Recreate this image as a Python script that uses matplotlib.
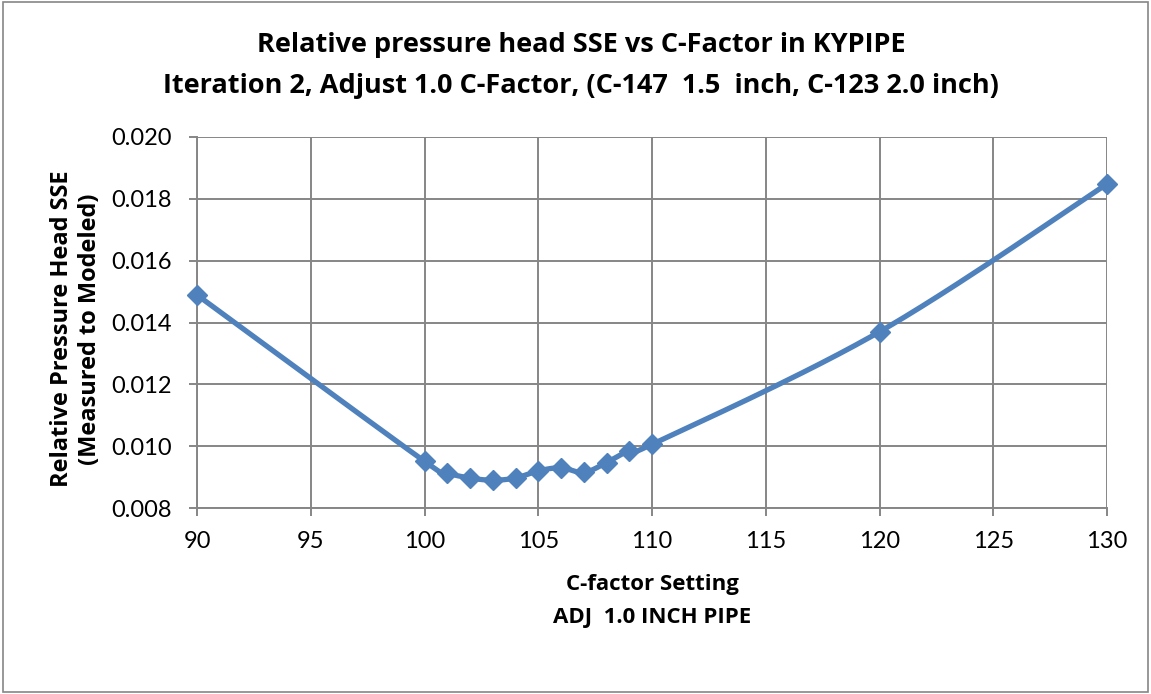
import numpy as np
import matplotlib
matplotlib.use("Agg")
import matplotlib.pyplot as plt
from matplotlib.patches import Rectangle

c_factor = [90, 100, 101, 102, 103, 104, 105, 106, 107, 108, 109, 110, 120, 130]
sse = [0.01489, 0.00951, 0.00914, 0.00897, 0.00890, 0.00897, 0.00920, 0.00930,
       0.00915, 0.00947, 0.00986, 0.01006, 0.01370, 0.01848]
x_ticks = [90, 95, 100, 105, 110, 115, 120, 125, 130]
y_ticks = [0.008, 0.010, 0.012, 0.014, 0.016, 0.018, 0.020]

title = "Relative pressure head SSE vs C-Factor in KYPIPE\nIteration 2, Adjust 1.0 C-Factor, (C-147  1.5  inch, C-123 2.0 inch)"
xlabel = "C-factor Setting\nADJ  1.0 INCH PIPE"
ylabel = "Relative Pressure Head SSE\n(Measured to Modeled)"

plt.rcParams['font.family'] = ['Lato', 'DejaVu Sans']
bold_font = ['Open Sans', 'DejaVu Sans']

def smooth(x, y, n=30):
    # Catmull-Rom style smoothing similar to spreadsheet smoothed lines
    x = np.asarray(x, float); y = np.asarray(y, float)
    px, py = [], []
    for i in range(len(x) - 1):
        p0 = (x[i-1], y[i-1]) if i > 0 else (x[i], y[i])
        p1 = (x[i], y[i]); p2 = (x[i+1], y[i+1])
        p3 = (x[i+2], y[i+2]) if i + 2 < len(x) else (x[i+1], y[i+1])
        t = np.linspace(0, 1, n)
        s = 1/6
        c1 = (p1[0] + (p2[0]-p0[0])*s, p1[1] + (p2[1]-p0[1])*s)
        c2 = (p2[0] - (p3[0]-p1[0])*s, p2[1] - (p3[1]-p1[1])*s)
        bx = (1-t)**3*p1[0] + 3*(1-t)**2*t*c1[0] + 3*(1-t)*t**2*c2[0] + t**3*p2[0]
        by = (1-t)**3*p1[1] + 3*(1-t)**2*t*c1[1] + 3*(1-t)*t**2*c2[1] + t**3*p2[1]
        px.extend(bx); py.extend(by)
    return px, py

fig = plt.figure(figsize=(11.51, 6.94), dpi=100)
fig.patches.append(Rectangle((0.003, 0.003), 0.994, 0.994, transform=fig.transFigure,
                             fill=False, edgecolor='#868686', linewidth=1.2))
ax = fig.add_axes([0.1712, 0.268, 0.7906, 0.5346])

sx, sy = smooth(c_factor, sse)
ax.plot(sx, sy, color='#4F81BD', linewidth=3.8, solid_capstyle='round', zorder=3, clip_on=False)
ax.plot(c_factor, sse, linestyle='none', marker='D', markersize=10.5, color='#4F81BD',
        zorder=4, clip_on=False)

ax.set_xlim(90, 130)
ax.set_ylim(0.008, 0.020)
ax.set_xticks(x_ticks)
ax.set_yticks(y_ticks)
ax.set_xticklabels([str(v) for v in x_ticks])
ax.set_yticklabels([f"{v:.3f}" for v in y_ticks])
ax.grid(True, color='#868686', linewidth=1.4)
ax.set_axisbelow(True)
for s in ['top', 'right']:
    ax.spines[s].set_visible(False)
for s in ['left', 'bottom']:
    ax.spines[s].set_color('#868686')
    ax.spines[s].set_linewidth(1.4)
ax.tick_params(axis='both', colors='#868686', labelcolor='black', labelsize=17,
               length=6, width=1.4, direction='out')
ax.tick_params(axis='x', pad=10.5)
ax.tick_params(axis='y', pad=12)

fig.text(0.505, 0.905, title, ha='center', va='center', fontsize=19.5, fontweight='bold',
         family=bold_font, linespacing=1.75)
fig.text(0.5665, 0.1345, xlabel, ha='center', va='center', fontsize=16, fontweight='bold',
         family=bold_font, linespacing=1.75)
fig.text(0.066, 0.526, ylabel, ha='center', va='center', rotation=90, fontsize=17,
         fontweight='bold', family=bold_font, linespacing=1.25)

fig.savefig("out.png", dpi=100)
